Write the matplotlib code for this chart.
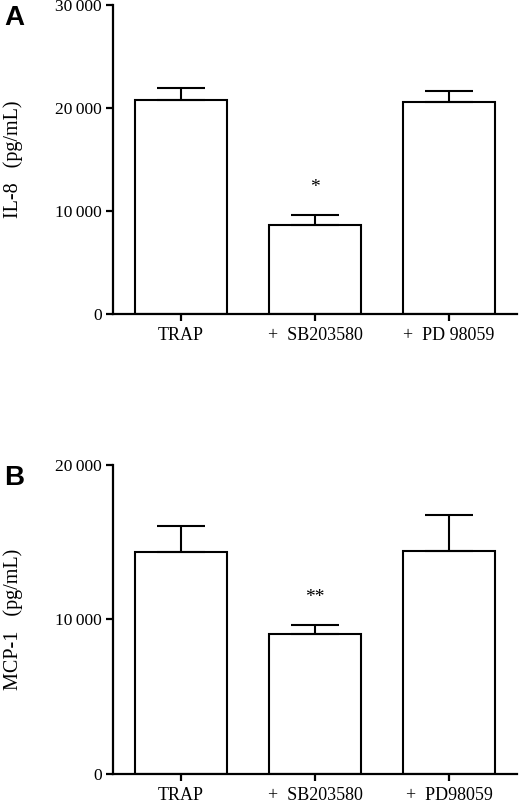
import numpy as np
import matplotlib
matplotlib.use("Agg")
import matplotlib.pyplot as plt

plt.rcParams['font.family'] = ['Liberation Serif', 'DejaVu Serif']

# panel A: IL-8
labels_a = ["TRAP", "+  SB203580", "+  PD 98059"]
il8 = [20800, 8650, 20600]
il8_err = [1150, 970, 1070]
stars_a = ["", "*", ""]

# panel B: MCP-1
labels_b = ["TRAP", "+  SB203580", "+  PD98059"]
mcp1 = [14380, 9060, 14430]
mcp1_err = [1680, 580, 2330]
stars_b = ["", "**", ""]


def fmt(v):
    s = "%d" % v
    if len(s) > 3:
        s = s[:-3] + "\u2009" + s[-3:]
    return s


def panel(ax, vals, errs, labels, stars, ymax, step, ylab, letter):
    x = np.arange(len(vals))
    ax.bar(x, vals, width=0.69, color="white", edgecolor="black", linewidth=1.5, zorder=2)
    ax.errorbar(x, vals, yerr=[np.zeros(len(vals)), errs], fmt="none", ecolor="black",
                elinewidth=1.5, capsize=17, capthick=1.5, zorder=3)
    for i in range(len(vals)):
        if stars[i]:
            ax.annotate(stars[i], (x[i], vals[i] + errs[i]), xytext=(0, 20),
                        textcoords="offset points", ha="center", va="center", fontsize=14)
    ax.set_xlim(-0.507, 2.507)
    ax.set_ylim(0, ymax)
    ticks = np.arange(0, ymax + 1, step)
    ax.set_yticks(ticks)
    ax.set_yticklabels([fmt(t) for t in ticks], fontsize=12.5)
    ax.set_xticks(x)
    ax.set_xticklabels(labels, fontsize=13)
    for s in ["top", "right"]:
        ax.spines[s].set_visible(False)
    for s in ["left", "bottom"]:
        ax.spines[s].set_linewidth(1.6)
    ax.tick_params(axis="both", width=1.6, length=5, direction="out")
    ax.tick_params(axis="x", pad=4)
    ax.tick_params(axis="y", pad=3)
    ax.set_ylabel(ylab, fontsize=14.5)
    ax.yaxis.set_label_coords(-0.222, 0.5)
    ax.text(-0.27, 1.0, letter, transform=ax.transAxes, fontsize=20, fontweight="bold",
            family="Liberation Sans", va="top", ha="left")


fig = plt.figure(figsize=(5.2, 8.06), dpi=100)
ax1 = fig.add_axes([0.2173, 0.6104, 0.7767, 0.3834])
ax2 = fig.add_axes([0.2173, 0.0397, 0.7767, 0.3834])
panel(ax1, il8, il8_err, labels_a, stars_a, 30000, 10000, "IL-8   (pg/mL)", "A")
panel(ax2, mcp1, mcp1_err, labels_b, stars_b, 20000, 10000, "MCP-1   (pg/mL)", "B")

fig.savefig("out.png", dpi=100)
